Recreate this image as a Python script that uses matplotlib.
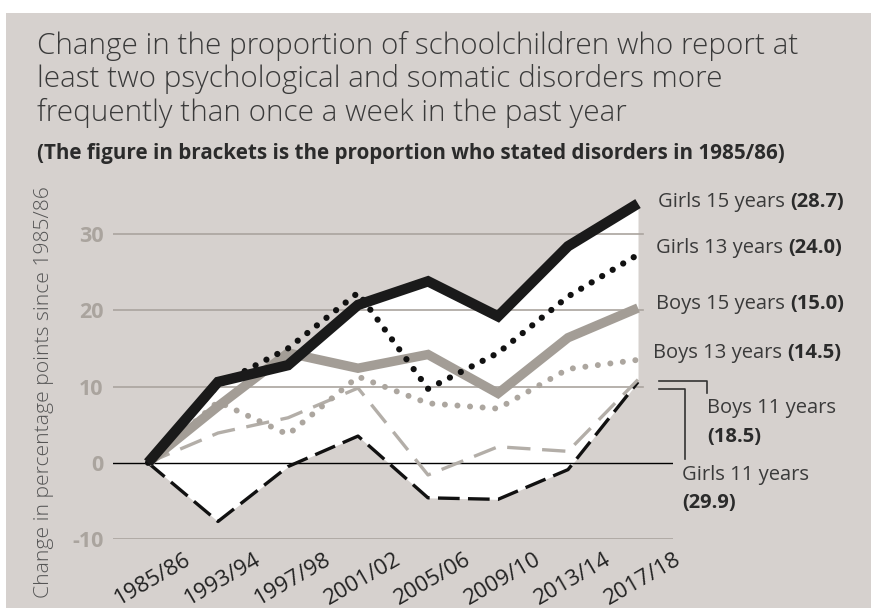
import numpy as np
import matplotlib
matplotlib.use("Agg")
import matplotlib.pyplot as plt
from matplotlib.patches import Rectangle
from matplotlib.transforms import ScaledTranslation

plt.rcParams['font.family'] = ['Open Sans', 'DejaVu Sans']

# data (change in percentage points since 1985/86)
years = ["1985/86", "1993/94", "1997/98", "2001/02", "2005/06", "2009/10", "2013/14", "2017/18"]
girls15 = [0, 10.6, 12.8, 20.7, 23.8, 19.2, 28.4, 34.0]
girls13 = [0, 10.2, 15.0, 22.3, 9.7, 14.4, 21.8, 27.3]
boys15 = [0, 7.4, 14.4, 12.4, 14.2, 9.1, 16.4, 20.3]
boys13 = [0, 8.0, 3.7, 11.3, 7.8, 7.1, 12.3, 13.5]
boys11 = [0, 3.9, 5.9, 9.8, -1.6, 2.1, 1.5, 10.9]
girls11 = [0, -7.7, -0.5, 3.5, -4.6, -4.8, -0.9, 10.6]
yticks = [-10, 0, 10, 20, 30]
title_lines = ["Change in the proportion of schoolchildren who report at",
               "least two psychological and somatic disorders more",
               "frequently than once a week in the past year"]

W, H = 871, 608
BG = "#d6d1ce"
GRID = "#aaa49e"


def px(x, y):
    # pixel coords (from top-left) -> figure fraction
    return x / W, 1 - y / H


fig = plt.figure(figsize=(W / 100, H / 100), dpi=100)
fig.patch.set_facecolor("white")
fig.patches.append(Rectangle((6 / W, 0), 1, 1 - 13 / H, transform=fig.transFigure,
                             facecolor=BG, edgecolor="none", zorder=-10))

ax = fig.add_axes([113 / W, (608 - 539) / H, 560 / W, (539 - 188.3) / H])
ax.set_facecolor("none")
x = np.arange(len(years))
ax.set_xlim(-0.5, 7.5)
ax.set_ylim(-10, 36)

# white envelope
allv = np.array([girls15, girls13, boys15, boys13, boys11, girls11])
ax.fill_between(x, allv.min(axis=0), girls15, color="white", lw=0, zorder=1)

# grid lines
for v in yticks:
    if v == 0:
        ax.plot([-0.5, 7.5], [0, 0], color="black", lw=1, zorder=2)
    elif v == -10:
        ax.plot([-0.5, 7.5], [v, v], color=GRID, lw=1.2, zorder=2)
    else:
        ax.plot([-0.5, 7.07], [v, v], color=GRID, lw=1.2, zorder=2)

ax.plot(x, girls11, color="#111111", lw=2.4, ls=(0, (6.5, 2.5)), zorder=3)
ax.plot(x, boys11, color="#b3aea8", lw=2.4, ls=(0, (7, 3.5)), zorder=3)
ax.plot(x, boys13, color="#aca69f", lw=4.3, ls=(0, (0.01, 2.1)),
        dash_capstyle="round", zorder=4)
ax.plot(x, boys15, color="#a39d96", lw=6.8, solid_joinstyle="miter",
        solid_capstyle="butt", zorder=5)
ax.plot(x, girls13, color="#111111", lw=4.5, ls=(0, (0.01, 1.95)),
        dash_capstyle="round", zorder=6, clip_on=False)
ax.plot(x, girls15, color="#1a1a1a", lw=7.5, solid_joinstyle="miter",
        solid_capstyle="butt", zorder=7, clip_on=False)

for s in ax.spines.values():
    s.set_visible(False)
ax.tick_params(length=0)
ax.set_yticks(yticks)
ax.set_yticklabels([str(v) for v in yticks], color=GRID, fontweight="bold", fontsize=15.5)
ax.tick_params(axis="y", pad=7)
ax.set_xticks(x)
ax.set_xticklabels(years, rotation=30, ha="center", fontsize=16, color="#222222")
ax.tick_params(axis="x", pad=7)
shift = ScaledTranslation(5 / 100, 0, fig.dpi_scale_trans)
for lab in ax.get_xticklabels():
    lab.set_transform(lab.get_transform() + shift)

# titles
for i, line in enumerate(title_lines):
    fig.text(*px(37, 54 + 33.5 * i), line, fontsize=21.3, fontweight="light",
             color="#3a3a3a", va="baseline")
fig.text(*px(37, 159), "(The figure in brackets is the proportion who stated disorders in 1985/86)",
         fontsize=14.9, fontweight="bold", color="#2b2b2b", va="baseline")
fig.text(*px(44, 392), "Change in percentage points since 1985/86", rotation=90,
         fontsize=15.2, fontweight="light", color="#555555", ha="center", va="center")

# series labels
labels = [("Girls 15 years", "(28.7)", 658, 202),
          ("Girls 13 years", "(24.0)", 656, 248),
          ("Boys 15 years", "(15.0)", 656, 304),
          ("Boys 13 years", "(14.5)", 653, 353)]
for reg, bold, lx, ly in labels:
    t = fig.text(*px(lx, ly), reg, fontsize=14.5, color="#3a3a3a", va="center")
    ax.annotate(bold, xy=(1, 0), xycoords=t, xytext=(4, 0), textcoords="offset points",
                fontsize=14.5, fontweight="bold", color="#2b2b2b", va="bottom", ha="left")

fig.text(*px(707, 408), "Boys 11 years", fontsize=14.5, color="#3a3a3a", va="center")
fig.text(*px(707, 437), "(18.5)", fontsize=14.5, fontweight="bold", color="#2b2b2b", va="center")
fig.text(*px(682, 475), "Girls 11 years", fontsize=14.5, color="#3a3a3a", va="center")
fig.text(*px(682, 503), "(29.9)", fontsize=14.5, fontweight="bold", color="#2b2b2b", va="center")

for pts in ([(659, 381), (707, 381), (707, 393)], [(659, 389), (685, 389), (685, 459)]):
    xs, ys = zip(*[px(a, b) for a, b in pts])
    fig.add_artist(plt.Line2D(xs, ys, color="#333333", lw=1.2, transform=fig.transFigure))

fig.savefig("out.png", dpi=100, facecolor=fig.get_facecolor())
